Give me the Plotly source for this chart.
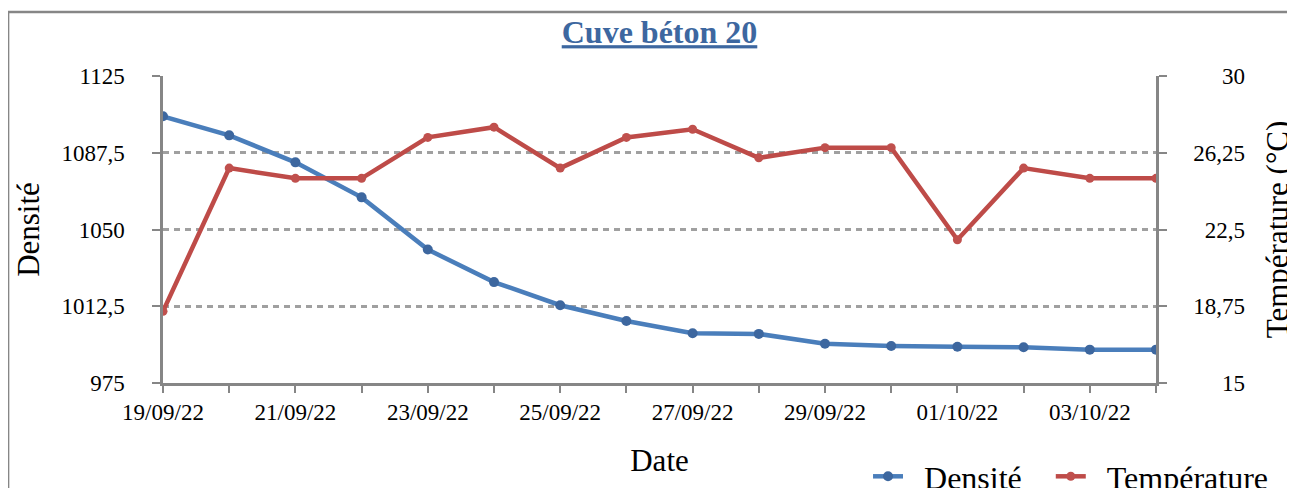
import plotly.graph_objects as go

dates = ["2022-09-19", "2022-09-20", "2022-09-21", "2022-09-22", "2022-09-23",
         "2022-09-24", "2022-09-25", "2022-09-26", "2022-09-27", "2022-09-28",
         "2022-09-29", "2022-09-30", "2022-10-01", "2022-10-02", "2022-10-03",
         "2022-10-04"]
densite = [1105.3, 1096, 1082.8, 1065.7, 1040.2, 1024.3, 1013, 1005.3, 999.3,
           999, 994.2, 993.1, 992.7, 992.5, 991.3, 991.3]
temperature = [18.5, 25.5, 25.0, 25.0, 27.0, 27.5, 25.5, 27.0, 27.4, 26.0,
               26.5, 26.5, 22.0, 25.5, 25.0, 25.0]

y1_vals = [975, 1012.5, 1050, 1087.5, 1125]
y1_text = ["975", "1012,5", "1050", "1087,5", "1125"]
y2_vals = [15, 18.75, 22.5, 26.25, 30]
y2_text = ["15", "18,75", "22,5", "26,25", "30"]
# pad right-axis labels so they appear right-aligned
FS = "\u2007"  # figure space (digit width)
PS = "\u2008"  # punctuation space (comma width)
y2_pad = [FS + FS + PS + "15", "18,75", FS + "22,5", "26,25", FS + FS + PS + "30"]

FONT = "Liberation Serif"
GRAY = "#868686"
NB = "\u00a0"

fig = go.Figure()
fig.add_trace(go.Scatter(
    x=dates, y=densite, name=NB * 2 + "Densité" + NB * 3, mode="lines+markers",
    line=dict(color="#4A7EBB", width=4.5),
    marker=dict(color="#3D679F", size=10),
    yaxis="y"))
fig.add_trace(go.Scatter(
    x=dates, y=temperature, name=NB * 2 + "Température", mode="lines+markers",
    line=dict(color="#BE4B48", width=4.5),
    marker=dict(color="#C0504D", size=9),
    yaxis="y2"))

fig.update_layout(
    width=1295, height=488,
    margin=dict(l=155, r=147, t=68, b=113, autoexpand=False),
    paper_bgcolor="white", plot_bgcolor="white",
    font=dict(family=FONT, color="black", size=23),
    title=dict(text="<b><u>Cuve béton 20</u></b>", x=0.5, xanchor="center",
               xref="paper", y=1 - 24 / 488, yref="container", yanchor="middle",
               font=dict(family=FONT, size=32, color="#3D67A0")),
    xaxis=dict(
        type="date", range=[dates[0], dates[-1]],
        tick0=dates[0], dtick=2 * 86400000, tickformat="%d/%m/%y",
        ticks="outside", ticklen=7, tickwidth=2, tickcolor=GRAY,
        minor=dict(dtick=86400000, tick0=dates[0], ticks="outside", ticklen=7,
                   tickwidth=2, tickcolor=GRAY, showgrid=False),
        showline=True, linecolor=GRAY, linewidth=2.5, showgrid=False,
        zeroline=False, ticklabelstandoff=0,
        tickfont=dict(family=FONT, size=23, color="black"),
        title=dict(text="Date", font=dict(family=FONT, size=31, color="black"),
                   standoff=25)),
    yaxis=dict(
        range=[975, 1125], tickvals=y1_vals, ticktext=y1_text,
        ticks="outside", ticklen=8, tickwidth=2, tickcolor=GRAY,
        showline=True, linecolor=GRAY, linewidth=2.5,
        showgrid=True, gridcolor="#A0A0A0", gridwidth=2.5, griddash="6px,5px",
        zeroline=False, ticklabelstandoff=23,
        tickfont=dict(family=FONT, size=23, color="black"),
        title=dict(text="Densité", font=dict(family=FONT, size=31, color="black"),
                   standoff=13)),
    yaxis2=dict(
        range=[15, 30], tickvals=y2_vals, ticktext=y2_pad,
        overlaying="y", side="right",
        ticks="outside", ticklen=8, tickwidth=2, tickcolor=GRAY,
        showline=True, linecolor=GRAY, linewidth=2.5, showgrid=False,
        zeroline=False, ticklabelstandoff=22,
        tickfont=dict(family=FONT, size=23, color="black"),
        title=dict(text="Température (°C)",
                   font=dict(family=FONT, size=31, color="black"), standoff=23)),
    legend=dict(orientation="h", x=0.710, xanchor="left", y=-0.215, yanchor="top",
                font=dict(family=FONT, size=32, color="black"),
                bgcolor="rgba(0,0,0,0)", itemwidth=30),
    showlegend=True,
)

# chart frame (top and left border)
fig.add_shape(type="line", xref="paper", yref="paper",
              x0=-0.156, x1=-0.156, y0=-0.5, y1=1.2085,
              line=dict(color=GRAY, width=2.5))
fig.add_shape(type="line", xref="paper", yref="paper",
              x0=-0.157, x1=1.2, y0=1.2085, y1=1.2085,
              line=dict(color=GRAY, width=2.5))

fig.write_html("out.html")
